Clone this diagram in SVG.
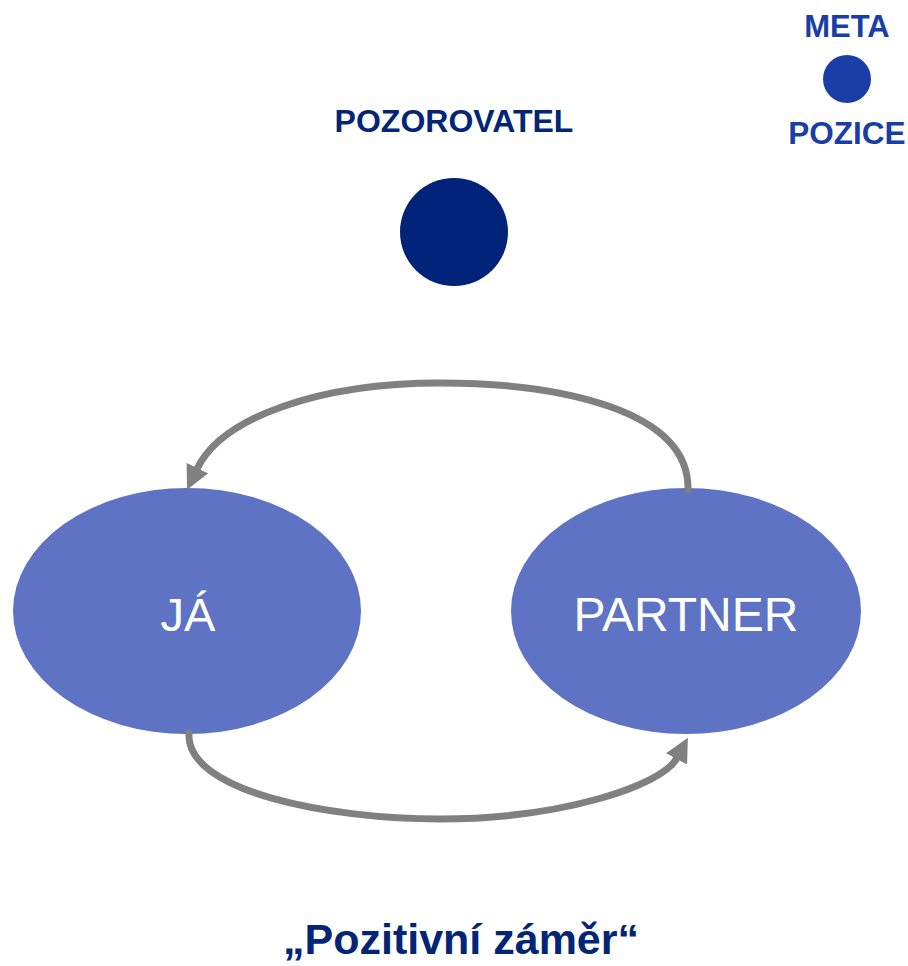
<svg xmlns="http://www.w3.org/2000/svg" width="908" height="966" viewBox="0 0 908 966">
<style>
.node{fill:#5E73C3}
.lbl{font-family:"Liberation Sans",Arial,sans-serif;fill:#FFFFFF;text-anchor:middle}
.bold{font-family:"Liberation Sans",Arial,sans-serif;font-weight:bold;text-anchor:middle}
.conn{fill:none;stroke:#808080;stroke-width:7;stroke-linecap:round}
</style>
<defs>
<marker id="arr" markerUnits="userSpaceOnUse" markerWidth="24" markerHeight="24" viewBox="0 0 24 24" refX="1" refY="12" orient="auto">
<path d="M0,0 L24,12 L0,24 z" fill="#808080"/>
</marker>
</defs>
<rect width="908" height="966" fill="#FFFFFF"/>
<g id="meta">
<text class="bold" x="847" y="37" font-size="31" fill="#1A3EA8">META</text>
<circle cx="847" cy="79" r="24" fill="#1A3EA8"/>
<text class="bold" x="847" y="144" font-size="31.5" fill="#1A3EA8">POZICE</text>
</g>
<g id="pozorovatel">
<text class="bold" x="454" y="132" font-size="32" fill="#022577">POZOROVATEL</text>
<circle cx="454" cy="232" r="54" fill="#02237A"/>
</g>
<g id="ja">
<ellipse class="node" cx="187" cy="611" rx="174" ry="123"/>
<text class="lbl" x="188" y="631" font-size="47">JÁ</text>
</g>
<g id="partner">
<ellipse class="node" cx="686" cy="611" rx="175" ry="123"/>
<text class="lbl" x="686" y="631" font-size="48">PARTNER</text>
</g>
<g id="connectors">
<path class="conn" d="M688,490 C690,410 560,383 440,383 C320,383 222,417 197,469" marker-end="url(#arr)"/>
<path class="conn" d="M189,733 C185,792 330,819 440,819 C560,819 662,786 677,758" marker-end="url(#arr)"/>
</g>
<g id="title">
<text class="bold" x="461" y="954" font-size="43" fill="#022577">„Pozitivní záměr“</text>
</g>
</svg>
